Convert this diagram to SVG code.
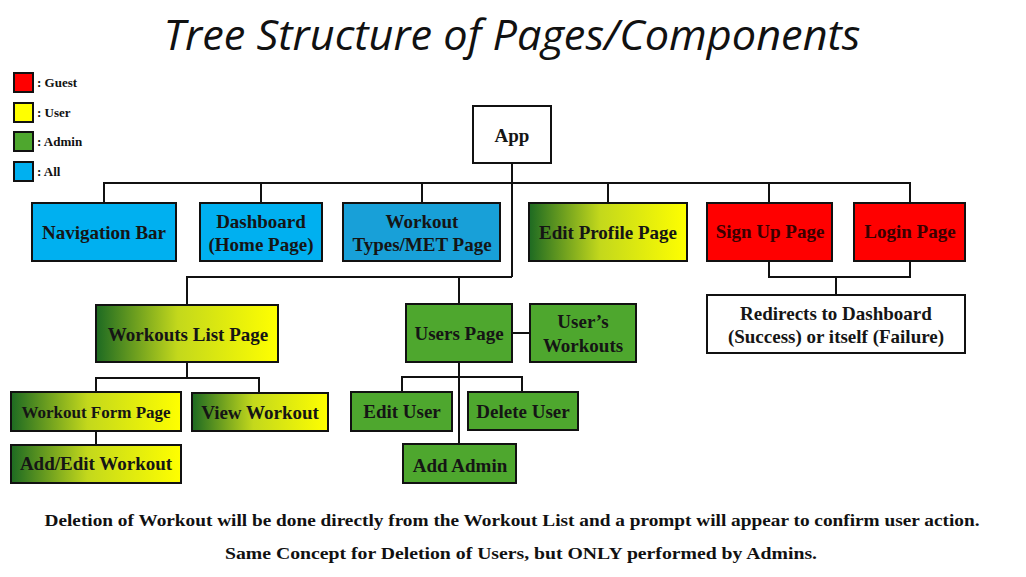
<svg xmlns="http://www.w3.org/2000/svg" width="1026" height="577" viewBox="0 0 1026 577">
<defs>
<linearGradient id="gy" x1="0" y1="0" x2="1" y2="0">
<stop offset="0" stop-color="#1d6a22"/>
<stop offset="0.45" stop-color="#c3d81c"/>
<stop offset="1" stop-color="#ffff00"/>
</linearGradient>
<style>
.box{stroke:#111;stroke-width:2}
.blue{fill:#00b0f0}
.blue2{fill:#18a0d8}
.red{fill:#ff0000}
.green{fill:#4ea72e}
.grad{fill:url(#gy)}
.white{fill:#ffffff}
.t{font-family:"Liberation Serif","Times New Roman",serif;font-weight:bold;font-size:19px;fill:#151515;text-anchor:middle}
.tr{fill:#3a0000}
.lg{font-family:"Liberation Serif","Times New Roman",serif;font-weight:bold;font-size:13px;fill:#111}
.ft{font-family:"Liberation Serif","Times New Roman",serif;font-weight:bold;font-size:17px;fill:#111;text-anchor:middle}
.c{fill:none;stroke:#111;stroke-width:2}
</style>
</defs>
<rect width="1026" height="577" fill="#ffffff"/>
<text x="512" y="50" font-family="'Open Sans','Liberation Sans',sans-serif" font-style="italic" font-size="42" fill="#111" text-anchor="middle" textLength="697" lengthAdjust="spacingAndGlyphs">Tree Structure of Pages/Components</text>

<g id="legend">
<rect class="box red" x="14" y="73" width="19" height="19"/>
<text class="lg" x="37" y="87">: Guest</text>
<rect class="box" x="14" y="103" width="19" height="19" fill="#ffff00"/>
<text class="lg" x="37" y="117">: User</text>
<rect class="box green" x="14" y="132" width="19" height="19"/>
<text class="lg" x="37" y="146">: Admin</text>
<rect class="box blue" x="14" y="162" width="19" height="19"/>
<text class="lg" x="37" y="176">: All</text>
</g>

<g id="connectors">
<polyline class="c" points="512,163 512,277"/>
<polyline class="c" points="104,203 104,183 910,183 910,203"/>
<line class="c" x1="261" y1="183" x2="261" y2="203"/>
<line class="c" x1="422" y1="183" x2="422" y2="203"/>
<line class="c" x1="608" y1="183" x2="608" y2="203"/>
<line class="c" x1="769" y1="183" x2="769" y2="203"/>
<polyline class="c" points="187,305 187,277 512,277"/>
<line class="c" x1="459" y1="277" x2="459" y2="304"/>
<polyline class="c" points="769,261 769,277 910,277 910,261"/>
<line class="c" x1="836" y1="277" x2="836" y2="295"/>
<line class="c" x1="512" y1="333" x2="530" y2="333"/>
<line class="c" x1="459" y1="362" x2="459" y2="444"/>
<polyline class="c" points="402,392 402,377 522,377 522,392"/>
<line class="c" x1="187" y1="362" x2="187" y2="378"/>
<polyline class="c" points="96,392 96,378 259,378 259,393"/>
<line class="c" x1="96" y1="431" x2="96" y2="445"/>
</g>

<g id="app"><rect class="box white" x="473" y="106" width="78" height="57"/><text class="t" x="512" y="142">App</text></g>
<g id="nav"><rect class="box blue" x="32" y="203" width="144" height="58"/><text class="t" x="104" y="239">Navigation Bar</text></g>
<g id="dashboard"><rect class="box blue" x="200" y="203" width="122" height="58"/><text class="t" x="261" y="228">Dashboard</text><text class="t" x="261" y="251">(Home Page)</text></g>
<g id="types"><rect class="box blue2" x="343" y="203" width="157" height="58"/><text class="t" x="422" y="228">Workout</text><text class="t" x="422" y="251">Types/MET Page</text></g>
<g id="editprofile"><rect class="box grad" x="529" y="203" width="158" height="58"/><text class="t" x="608" y="239">Edit Profile Page</text></g>
<g id="signup"><rect class="box red" x="707" y="203" width="125" height="58"/><text class="t tr" x="770" y="238">Sign Up Page</text></g>
<g id="login"><rect class="box red" x="854" y="203" width="111" height="58"/><text class="t tr" x="910" y="238">Login Page</text></g>
<g id="redirect"><rect class="box white" x="707" y="295" width="258" height="58"/><text class="t" x="836" y="320">Redirects to Dashboard</text><text class="t" x="836" y="343">(Success) or itself (Failure)</text></g>
<g id="workoutslist"><rect class="box grad" x="96" y="305" width="182" height="57"/><text class="t" x="188" y="341">Workouts List Page</text></g>
<g id="userspage"><rect class="box green" x="406" y="304" width="106" height="58"/><text class="t" x="459" y="340">Users Page</text></g>
<g id="usersworkouts"><rect class="box green" x="530" y="304" width="106" height="58"/><text class="t" x="583" y="328">User’s</text><text class="t" x="583" y="352">Workouts</text></g>
<g id="workoutform"><rect class="box grad" x="11" y="392" width="170" height="39"/><text class="t" x="96" y="418" style="font-size:17px">Workout Form Page</text></g>
<g id="viewworkout"><rect class="box grad" x="192" y="393" width="136" height="38"/><text class="t" x="260" y="419">View Workout</text></g>
<g id="addedit"><rect class="box grad" x="11" y="445" width="170" height="38"/><text class="t" x="96" y="470">Add/Edit Workout</text></g>
<g id="edituser"><rect class="box green" x="351" y="392" width="101" height="39"/><text class="t" x="402" y="418">Edit User</text></g>
<g id="deleteuser"><rect class="box green" x="468" y="392" width="110" height="38"/><text class="t" x="523" y="418">Delete User</text></g>
<g id="addadmin"><rect class="box green" x="403" y="444" width="113" height="39"/><text class="t" x="460" y="472">Add Admin</text></g>

<text class="ft" x="512" y="526" textLength="935" lengthAdjust="spacingAndGlyphs">Deletion of Workout will be done directly from the Workout List and a prompt will appear to confirm user action.</text>
<text class="ft" x="521" y="559" textLength="592" lengthAdjust="spacingAndGlyphs">Same Concept for Deletion of Users, but ONLY performed by Admins.</text>
</svg>
